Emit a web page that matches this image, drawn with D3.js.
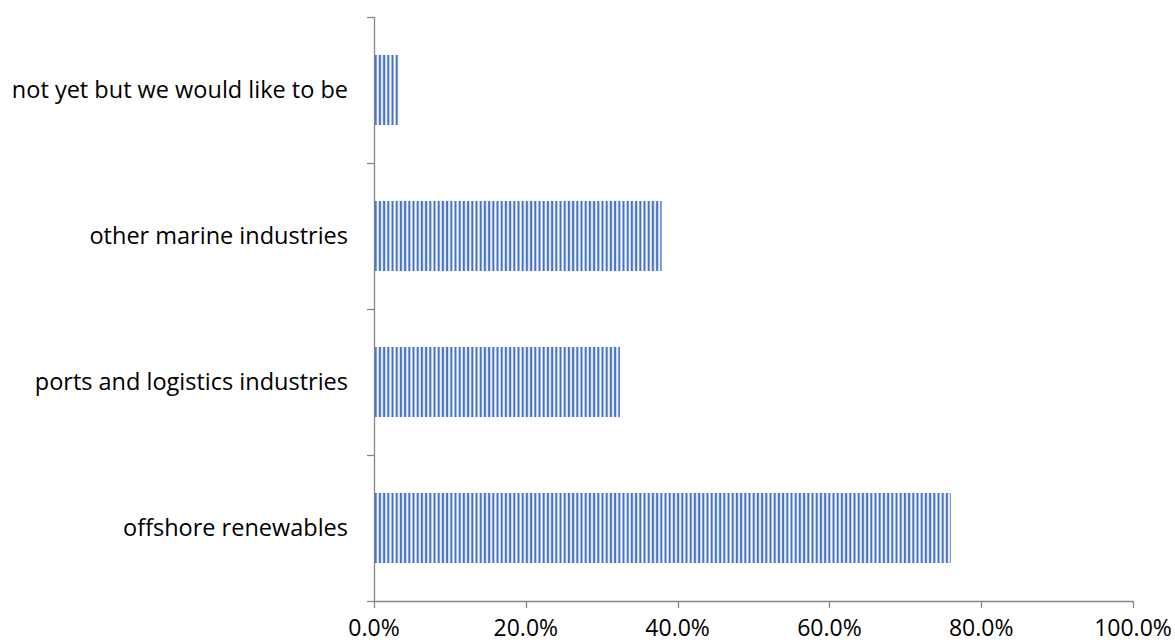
<!DOCTYPE html>
<html><head><meta charset="utf-8">
<script src="https://cdn.jsdelivr.net/npm/d3@7"></script>
<style>body{margin:0;background:#fff}svg text{font-family:"Open Sans",Lato,sans-serif}</style>
</head><body>
<svg id="c" width="1175" height="643"></svg>
<script>
const categories = ["not yet but we would like to be","other marine industries","ports and logistics industries","offshore renewables"];
const values = [0.033, 0.379, 0.324, 0.760];
const xTicks = [0,0.2,0.4,0.6,0.8,1.0];

const svg = d3.select("#c");
const m = {l:374, r:1133, t:17, b:601};
const x = d3.scaleLinear().domain([0,1]).range([m.l,m.r]);
const y = d3.scaleBand().domain(categories).range([m.t,m.b]).paddingInner(0.52).paddingOuter(0.26);

const defs = svg.append("defs");
const pat = defs.append("pattern").attr("id","stripes").attr("patternUnits","userSpaceOnUse")
  .attr("width",4.2).attr("height",10).attr("x",m.l);
pat.append("rect").attr("width",4.2).attr("height",10).attr("fill","#fff");
pat.append("rect").attr("x",0.6).attr("width",2.2).attr("height",10).attr("fill","#4472C4");

svg.selectAll("rect.bar").data(categories).join("rect").attr("class","bar")
  .attr("x",x(0)).attr("y",d=>y(d)).attr("height",y.bandwidth())
  .attr("width",(d,i)=>x(values[i])-x(0)).attr("fill","url(#stripes)");

const axColor = "#868686";
const band = (m.b-m.t)/categories.length;
const ytk = d3.range(categories.length+1).map(i=>m.t+i*band);
svg.append("line").attr("x1",m.l+0.5).attr("x2",m.l+0.5).attr("y1",m.t).attr("y2",m.b).attr("stroke",axColor).attr("stroke-width",1.3);
svg.selectAll("line.yt").data(ytk).join("line").attr("class","yt")
  .attr("x1",m.l-7).attr("x2",m.l+0.5).attr("y1",d=>Math.round(d)+0.5).attr("y2",d=>Math.round(d)+0.5).attr("stroke",axColor).attr("stroke-width",1.3);
svg.selectAll("text.yl").data(categories).join("text").attr("class","yl")
  .attr("x",m.l-26).attr("y",d=>y(d)+y.bandwidth()/2).attr("dy","0.35em").attr("text-anchor","end")
  .attr("font-size",23.5).attr("fill","#000").text(d=>d);
svg.append("line").attr("x1",m.l).attr("x2",m.r).attr("y1",m.b+0.5).attr("y2",m.b+0.5).attr("stroke",axColor).attr("stroke-width",1.3);
svg.selectAll("line.xt").data(xTicks).join("line").attr("class","xt")
  .attr("x1",d=>Math.round(x(d))+0.5).attr("x2",d=>Math.round(x(d))+0.5).attr("y1",m.b).attr("y2",m.b+7).attr("stroke",axColor).attr("stroke-width",1.3);
svg.selectAll("text.xl").data(xTicks).join("text").attr("class","xl")
  .attr("x",d=>x(d)).attr("y",636).attr("text-anchor","middle").attr("font-size",23).attr("fill","#000")
  .text(d=>d3.format(".1%")(d));
</script>
</body></html>
